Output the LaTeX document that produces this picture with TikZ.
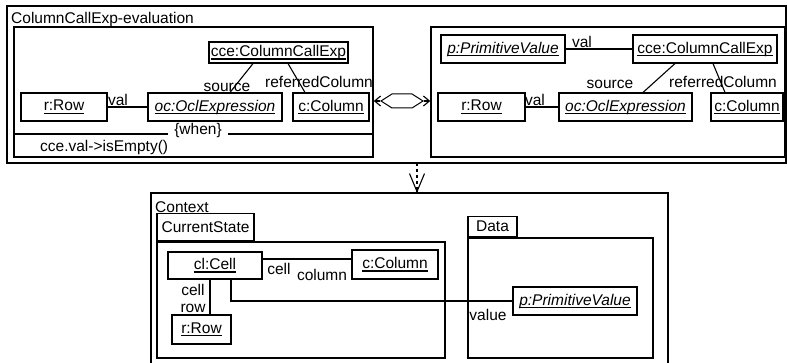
\documentclass[tikz,border=0pt]{standalone}
\usepackage{fontspec}
\setmainfont{Liberation Sans}
\usetikzlibrary{arrows.meta,shapes.symbols}
\newcommand{\uobj}[1]{\setbox0\hbox{#1}\rlap{\rule[-3pt]{\wd0}{1.3pt}}\box0}

\begin{document}
\begin{tikzpicture}[x=1pt,y=-1pt,
font=\fontsize{15.5}{18}\selectfont,
frame/.style={draw, line width=1.5pt, rectangle, inner sep=0pt},
obj/.style={draw, line width=1.1pt, rectangle, inner sep=0pt, minimum height=28pt},
role/.style={inner sep=0pt},
link/.style={line width=1.1pt},
tip/.style={-{Straight Barb[length=6pt,width=10pt]}},
]
\useasboundingbox (0,0) rectangle (787,363);

% Evaluation frame with both patterns
\node[frame, minimum width=779pt, minimum height=157pt] (eval) at (396.5,84.5) {};
\node[role, anchor=west] (evalname) at (11,19) {ColumnCallExp-evaluation};
\node[frame, minimum width=359pt, minimum height=130pt] (lhs) at (193.5,92) {};
\node[frame, minimum width=354pt, minimum height=130pt] (rhs) at (608,92) {};

% Left pattern
\node[obj, minimum width=139pt, minimum height=21pt] (cceL) at (278.5,52.5) {\uobj{cce:ColumnCallExp}};
\node[obj, minimum width=86pt] (rowL) at (64,107) {\uobj{r:Row}};
\node[obj, minimum width=134pt] (ocL) at (215,107) {\uobj{\itshape oc:OclExpression}};
\node[obj, minimum width=76pt] (colL) at (331,107) {\uobj{c:Column}};
\draw[link] (rowL) -- (ocL);
\draw[link] (cceL.south -| 253,0) -- (ocL.north -| 230,0);
\draw[link] (cceL.south -| 288,0) -- (colL.north -| 305,0);
\node[role] (lval) at (118,100) {val};
\node[role] (lsrc) at (227,87) {source};
\node[role] (lref) at (319,82) {referredColumn};

% When clause
\draw[link] (lhs.west |- 0,134) -- (lhs.east |- 0,134);
\node[role, fill=white, inner xsep=6pt, inner ysep=1pt] (when) at (198,130) {\{when\}};
\node[role, anchor=west] (cond) at (40,147) {cce.val->isEmpty()};

% Right pattern
\node[obj, minimum width=124pt] (pvR) at (503,49) {\uobj{\itshape p:PrimitiveValue}};
\node[obj, minimum width=144pt] (cceR) at (705,49) {\uobj{cce:ColumnCallExp}};
\node[obj, minimum width=87pt] (rowR) at (481.5,107) {\uobj{r:Row}};
\node[obj, minimum width=133pt] (ocR) at (625.5,107) {\uobj{\itshape oc:OclExpression}};
\node[obj, minimum width=72pt] (colR) at (747,107) {\uobj{c:Column}};
\draw[line width=2.5pt] (pvR) -- (cceR);
\draw[link] (rowR) -- (ocR);
\draw[link] (cceR.south -| 675,0) -- (ocR.north -| 643,0);
\draw[link] (cceR.south -| 713,0) -- (colR.north -| 725,0);
\node[role] (pval) at (582,42) {val};
\node[role] (rval) at (535,100) {val};
\node[role] (rsrc) at (610,84) {source};
\node[role] (rref) at (723,82) {referredColumn};

% Relation between the patterns
\node[draw, line width=1pt, signal, signal to=west and east, signal pointer angle=65,
  minimum width=42pt, minimum height=14pt, inner sep=0pt] (hex) at (402,101) {};
\draw[link, tip] (hex.west) -- (hex.west -| lhs.east);
\draw[link, tip] (hex.east) -- (hex.east -| rhs.west);

% Dependency on the context
\coordinate (dep) at (417,163);
\coordinate (ctxtop) at (417,193);
\draw[link, dash pattern=on 3pt off 3pt] (dep) -- (ctxtop);
\draw[link, -{Straight Barb[length=18pt,width=15pt]}] (ctxtop) ++(0,-0.5) -- (ctxtop);

% Context
\draw[frame] (151,363) |- (668,193) -- (668,363);
\node[role, anchor=west] (ctxname) at (155,207) {Context};
\node[frame, minimum width=288pt, minimum height=116pt] (cur) at (301,300) {};
\node[frame, anchor=south west, minimum width=97pt, minimum height=27pt] (curtab) at (cur.north west) {CurrentState};
\node[frame, minimum width=185pt, minimum height=120pt] (data) at (560.5,298) {};
\node[frame, anchor=south west, minimum width=49pt, minimum height=20pt] (datatab) at (data.north west) {Data};

\node[obj, minimum width=94pt, minimum height=27pt] (cell) at (215,265.5) {\uobj{cl:Cell}};
\node[obj, minimum width=86pt, minimum height=29pt] (colC) at (395,264.5) {\uobj{c:Column}};
\node[obj, minimum width=59pt, minimum height=29pt] (rowC) at (201.5,329.5) {\uobj{r:Row}};
\node[obj, minimum width=124pt] (pvD) at (575,301) {\uobj{\itshape p:PrimitiveValue}};
\draw[link] ([yshift=6.5pt]cell.east) -- ([yshift=6.5pt]cell.east -| colC.west);
\draw[link] (cell.south -| 210,0) -- (rowC.north -| 210,0);
\draw[link] (cell.south -| 231,0) |- (pvD.west);
\node[role] (ccell) at (279,269) {cell};
\node[role] (ccol) at (322,275) {column};
\node[role] (rcell) at (193,290) {cell};
\node[role] (rrow) at (193,308) {row};
\node[role] (pvalue) at (488,315) {value};

\end{tikzpicture}
\end{document}
